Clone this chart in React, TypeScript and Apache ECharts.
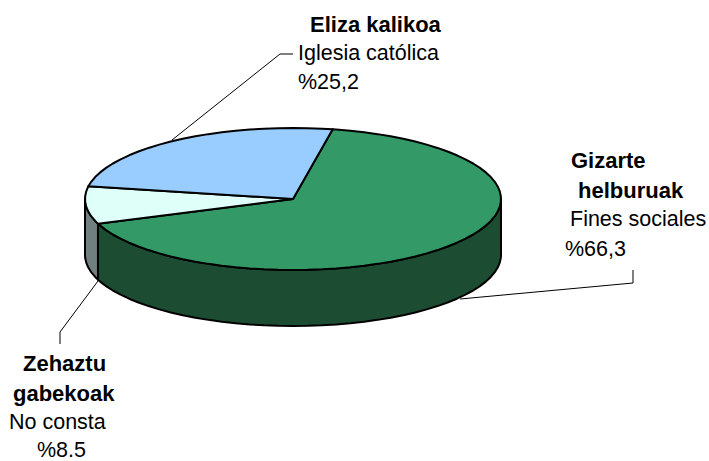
import React, { useEffect, useRef } from "react";
import * as echarts from "echarts";

const categories = ["Gizarte helburuak", "Zehaztu gabekoak", "Eliza kalikoa"];
const values = [66.3, 8.5, 25.2];
const topColors = ["#339966", "#DFFFF9", "#99CCFF"];
const sideColors = ["#1C4D33", "#708080", "#4C6680"];
const startAngle = 11;

const cx = 293, cy = 199, rx = 208, ry = 71, depth = 56, step = 4;

const total = values.reduce((a, b) => a + b, 0);
const startOf = (i: number) =>
  startAngle + (values.slice(0, i).reduce((a, b) => a + b, 0) / total) * 360;
const pt = (deg: number, dy = 0) => {
  const r = (deg * Math.PI) / 180;
  return [cx + rx * Math.sin(r), cy - ry * Math.cos(r) + dy];
};
const arc = (a: number, b: number, dy = 0) => {
  const out: number[][] = [pt(a, dy)];
  const first = Math.ceil(a / step) * step;
  for (let d = first; d < b; d += step) if (d > a) out.push(pt(d, dy));
  out.push(pt(b, dy));
  return out;
};

const labels = [
  { text: "Eliza kalikoa", x: 310, y: 24, bold: true },
  { text: "Iglesia católica", x: 298, y: 53, bold: false },
  { text: "%25,2", x: 298, y: 82, bold: false },
  { text: "Gizarte", x: 571, y: 160, bold: true },
  { text: "helburuak", x: 578, y: 190, bold: true },
  { text: "Fines sociales", x: 570, y: 219, bold: false },
  { text: "%66,3", x: 565, y: 249, bold: false },
  { text: "Zehaztu", x: 23, y: 363, bold: true },
  { text: "gabekoak", x: 13, y: 393, bold: true },
  { text: "No consta", x: 9, y: 422, bold: false },
  { text: "%8.5", x: 37, y: 450, bold: false },
];
const leaders = [
  [[172, 140], [280, 54], [293, 54]],
  [[460, 299], [633, 283], [633, 270]],
  [[98, 281], [60, 332], [60, 344]],
];

export default function App() {
  const ref = useRef<HTMLDivElement>(null);
  useEffect(() => {
    const chart = echarts.init(ref.current!, null, { renderer: "svg" });
    const data = categories.map((name, i) => ({ name, value: values[i] }));
    chart.setOption({
      animation: false,
      backgroundColor: "#ffffff",
      tooltip: { show: false },
      series: [
        {
          type: "custom",
          coordinateSystem: "none",
          data,
          z: 2,
          silent: true,
          renderItem: (p: any) => {
            const i = p.dataIndex;
            const a = Math.max(startOf(i), 90);
            const b = Math.min(startOf(i + 1), 270);
            if (b <= a) return { type: "group", children: [] };
            const points = [...arc(a, b), ...arc(a, b, depth).reverse()];
            return {
              type: "polygon",
              shape: { points },
              style: { fill: sideColors[i], stroke: "#000", lineWidth: 2, lineJoin: "round" },
            };
          },
        },
        {
          type: "custom",
          coordinateSystem: "none",
          data,
          z: 3,
          silent: true,
          renderItem: (p: any) => {
            const i = p.dataIndex;
            const points = [[cx, cy], ...arc(startOf(i), startOf(i + 1))];
            return {
              type: "polygon",
              shape: { points },
              style: { fill: topColors[i], stroke: "#000", lineWidth: 2, lineJoin: "round" },
            };
          },
        },
      ],
      graphic: [
        ...leaders.map((points) => ({
          type: "polyline",
          z: 1,
          shape: { points },
          style: { fill: "none", stroke: "#000", lineWidth: 1 },
        })),
        ...labels.map((l) => ({
          type: "text",
          z: 5,
          x: l.x,
          y: l.y,
          style: {
            text: l.text,
            fill: "#000",
            fontFamily: '"Liberation Sans", Arial, sans-serif',
            fontSize: l.bold ? 22 : 21.5,
            fontWeight: l.bold ? "bold" : "normal",
            textAlign: "left",
            textVerticalAlign: "middle",
            lineHeight: 20,
          },
        })),
      ],
    });
    return () => chart.dispose();
  }, []);
  return (
    <div
      ref={ref}
      style={{ position: "absolute", left: 0, top: 0, width: 709, height: 461 }}
    />
  );
}
